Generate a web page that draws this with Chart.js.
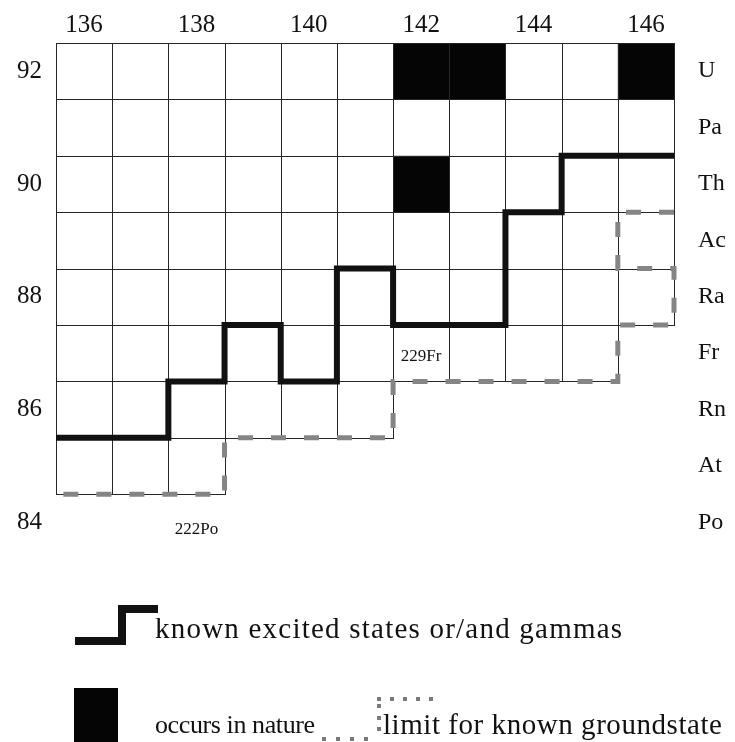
<!DOCTYPE html>
<html><head><meta charset="utf-8">
<script src="https://cdn.jsdelivr.net/npm/chart.js@4.4.0/dist/chart.umd.min.js"></script>
<style>html,body{margin:0;padding:0;background:#fff;}#wrap{width:735px;height:742px;position:relative;}</style>
</head><body><div id="wrap"><canvas id="c" width="735" height="742"></canvas></div>
<script>
// ---- data ----
const neutronTicks = [136,138,140,142,144,146];
const protonTicks = [84,86,88,90,92];
const elementZ = [92,91,90,89,88,87,86,85,84];
const elementNames = ['U','Pa','Th','Ac','Ra','Fr','Rn','At','Po'];
// chart cells present in each row (Z)
const rowZ = [92,91,90,89,88,87,86,85];
const rowFirstN = [136,136,136,136,136,136,136,136];
const rowLastN = [146,146,146,146,146,145,141,138];
// isotopes occurring in nature
const naturalN = [142,143,146,142];
const naturalZ = [92,92,92,90];
// border of known excited states / gammas (cell edges)
const excitedN = [135.5,137.5,137.5,138.5,138.5,139.5,139.5,140.5,140.5,141.5,141.5,143.5,143.5,144.5,144.5,146.5];
const excitedZ = [85.5,85.5,86.5,86.5,87.5,87.5,86.5,86.5,88.5,88.5,87.5,87.5,89.5,89.5,90.5,90.5];
// limit for known ground state (cell edges)
const groundN = [146.5,145.5,145.5,146.5,146.5,145.5,145.5,141.5,141.5,138.5,138.5,135.5];
const groundZ = [89.5,89.5,88.5,88.5,87.5,87.5,86.5,86.5,85.5,85.5,84.5,84.5];
// annotated nuclides
const noteLabels = ['229Fr','222Po'];
const noteN = [142,138];
const noteZ = [87,84];
const legendLabels = ['known excited states or/and gammas','occurs in nature','limit for known groundstate'];

const serif = "'Liberation Serif','Times New Roman',serif";
const pts = (a,b) => a.map((v,i)=>({x:v,y:b[i]}));

function fitText(ctx, text, x, y, width){
  const w = ctx.measureText(text).width;
  const sp = (width - w) / (text.length - 1);
  if ('letterSpacing' in ctx) {
    ctx.letterSpacing = sp.toFixed(2) + 'px';
    ctx.fillText(text, x, y);
    ctx.letterSpacing = '0px';
  } else {
    ctx.save(); ctx.translate(x, y); ctx.scale(width / w, 1); ctx.fillText(text, 0, 0); ctx.restore();
  }
}

const cellsPlugin = {
  id:'cells',
  beforeDatasetsDraw(chart){
    const {ctx, scales:{x,y}} = chart;
    ctx.save();
    ctx.fillStyle = '#050505';
    naturalN.forEach((n,i)=>{
      const x0=x.getPixelForValue(n-0.5), x1=x.getPixelForValue(n+0.5);
      const y0=y.getPixelForValue(naturalZ[i]+0.5), y1=y.getPixelForValue(naturalZ[i]-0.5);
      ctx.fillRect(x0,y0,x1-x0,y1-y0);
    });
    ctx.strokeStyle='#262626'; ctx.lineWidth=1;
    rowZ.forEach((z,i)=>{
      for(let n=rowFirstN[i]; n<=rowLastN[i]; n++){
        const x0=Math.round(x.getPixelForValue(n-0.5))+0.5, x1=Math.round(x.getPixelForValue(n+0.5))+0.5;
        const y0=Math.round(y.getPixelForValue(z+0.5))+0.5, y1=Math.round(y.getPixelForValue(z-0.5))+0.5;
        ctx.strokeRect(x0,y0,x1-x0,y1-y0);
      }
    });
    ctx.restore();
  },
  afterDatasetsDraw(chart){
    const {ctx, scales:{x,y}} = chart;
    ctx.save();
    ctx.fillStyle='#111';
    ctx.font = '17px '+serif;
    ctx.textAlign='center'; ctx.textBaseline='middle';
    noteLabels.forEach((t,i)=>{
      const off = i === 0 ? 3 : 7;
      ctx.fillText(t, x.getPixelForValue(noteN[i]), y.getPixelForValue(noteZ[i])+off);
    });
    ctx.restore();
  },
  afterDraw(chart){
    const ctx = chart.ctx;
    ctx.save();
    // legend 1: step symbol
    ctx.strokeStyle='#111'; ctx.lineWidth=8; ctx.lineJoin='miter'; ctx.lineCap='butt';
    ctx.beginPath(); ctx.moveTo(75,641); ctx.lineTo(122,641); ctx.lineTo(122,609); ctx.lineTo(158,609); ctx.stroke();
    ctx.fillStyle='#111'; ctx.textAlign='left'; ctx.textBaseline='alphabetic';
    ctx.font='29px '+serif;
    fitText(ctx, legendLabels[0], 155, 638, 467);
    // legend 2: black square
    ctx.fillStyle='#050505';
    ctx.fillRect(74,688,44,54);
    ctx.fillStyle='#111';
    ctx.font='26px '+serif;
    fitText(ctx, legendLabels[1], 155, 733, 160);
    // legend 3: dotted step
    ctx.fillStyle='#7a7a7a';
    [322,336,350,364].forEach(px=>ctx.fillRect(px,737,4,4));
    [704,716,727].forEach(py=>ctx.fillRect(377,py,4,4));
    [377,390,403,416,429].forEach(px=>ctx.fillRect(px,697,4,4));
    ctx.fillStyle='#111';
    ctx.font='29px '+serif;
    fitText(ctx, legendLabels[2], 383, 734, 339);
    ctx.restore();
  }
};

new Chart(document.getElementById('c'), {
  type:'scatter',
  data:{datasets:[
    {label:'ground', data:pts(groundN,groundZ), showLine:true, borderColor:'#858585', borderWidth:5, borderDash:[15,18], pointRadius:0, borderJoinStyle:'miter', clip:false, order:2},
    {label:'excited', data:pts(excitedN,excitedZ), showLine:true, borderColor:'#111', borderWidth:6, pointRadius:0, borderJoinStyle:'miter', borderCapStyle:'butt', clip:false, order:1}
  ]},
  options:{
    responsive:false, animation:false, devicePixelRatio:1,
    layout:{padding:{left:0,right:0,top:0,bottom:191.4}},
    plugins:{legend:{display:false}, tooltip:{enabled:false}},
    scales:{
      x:{type:'linear', position:'top', min:135.5, max:146.5,
         grid:{display:false}, border:{display:false},
         afterBuildTicks:s=>{s.ticks=neutronTicks.map(v=>({value:v}));},
         afterFit:s=>{s.height=43;},
         ticks:{font:{family:serif,size:25}, color:'#111', padding:-5, maxRotation:0, autoSkip:false}},
      y:{type:'linear', position:'left', min:83.5, max:92.5,
         grid:{display:false}, border:{display:false},
         afterBuildTicks:s=>{s.ticks=protonTicks.map(v=>({value:v}));},
         afterFit:s=>{s.width=56;},
         ticks:{font:{family:serif,size:25}, color:'#111', padding:6, autoSkip:false}},
      y2:{type:'linear', position:'right', min:83.5, max:92.5,
         grid:{display:false}, border:{display:false},
         afterBuildTicks:s=>{s.ticks=elementZ.map(v=>({value:v}));},
         afterFit:s=>{s.width=61;},
         ticks:{font:{family:serif,size:24}, color:'#111', padding:16, autoSkip:false,
                callback:v=>elementNames[elementZ.indexOf(v)]}}
    }
  },
  plugins:[cellsPlugin]
});
</script></body></html>
